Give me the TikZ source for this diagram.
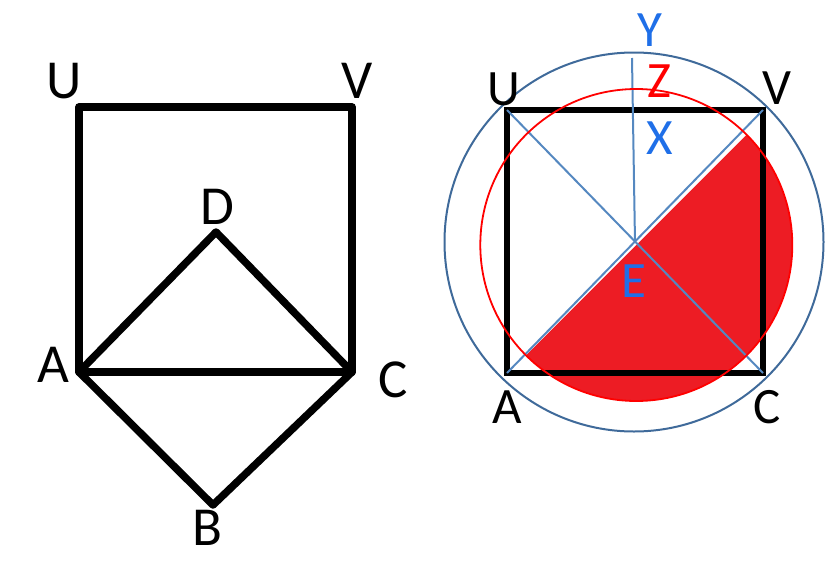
\documentclass[tikz,border=0pt]{standalone}
\usepackage{fontspec}
\setmainfont{Carlito}
\usetikzlibrary{calc}
\definecolor{fillred}{HTML}{ED1C24}
\definecolor{circred}{HTML}{FF0000}
\definecolor{lineblue}{HTML}{5588C0}
\definecolor{circblue}{HTML}{3F6A9A}
\definecolor{textblue}{HTML}{1F6FE8}
\tikzset{
  biglabel/.style={inner sep=0pt, font=\fontsize{55}{60}\selectfont},
  smlabel/.style={inner sep=0pt, font=\fontsize{51}{56}\selectfont},
  thickedge/.style={line width=7.5pt, line join=round, line cap=round},
  sqedge/.style={line width=5.5pt, line join=miter},
  thinblue/.style={line width=2pt, color=lineblue},
}
\begin{document}
\begin{tikzpicture}[x=1pt,y=-1pt]
\useasboundingbox (0,0) rectangle (830,571);
% ---------- left figure ----------
\coordinate (LU) at (79,107);
\coordinate (LV) at (352,107);
\coordinate (LC) at (352,372);
\coordinate (LA) at (79,372);
\coordinate (LD) at (216,232);
\coordinate (LB) at (213,505);
\draw[thickedge] (LA) -- (LU) -- (LV) -- (LC) -- cycle;
\draw[thickedge] (LA) -- (LD) -- (LC);
\draw[thickedge] (LA) -- (LB) -- (LC);
\node[biglabel] (tLU) at (64,81) {U};
\node[biglabel] (tLV) at (357,81) {V};
\node[biglabel] (tLD) at (217,207) {D};
\node[biglabel] (tLA) at (53,365) {A};
\node[biglabel] (tLC) at (393,380) {C};
\node[biglabel] (tLB) at (207,528) {B};
% ---------- right figure ----------
\coordinate (RU) at (507,110);
\coordinate (RV) at (763,110);
\coordinate (RC) at (763,373);
\coordinate (RA) at (507,373);
\coordinate (RE) at (635,242);
\coordinate (RT) at (632,58);
\coordinate (RO) at (636.3,245);
\coordinate (BO) at (634,242);
% red half disc
\fill[fillred] ($(RO)+(-45:156)$) arc[start angle=-45, end angle=135, radius=156] -- cycle;
\draw[sqedge] (RA) -- (RU) -- (RV) -- (RC) -- cycle;
\draw[thinblue] (RU) -- (RC);
\draw[thinblue] (RA) -- (RV);
\draw[thinblue] (RE) -- (RT);
\draw[line width=1.8pt, circred] (RO) circle[radius=156];
\draw[line width=2pt, circblue] (BO) circle[radius=189.5];
\node[smlabel, text=textblue] (tY) at (650,30) {Y};
\node[smlabel, text=circred] (tZ) at (659,81) {Z};
\node[smlabel, text=textblue] (tX) at (660,138) {X};
\node[smlabel, text=textblue] (tE) at (634,281) {E};
\node[smlabel] (tRU) at (504,89) {U};
\node[smlabel] (tRV) at (777,88) {V};
\node[smlabel] (tRA) at (507,407) {A};
\node[smlabel] (tRC) at (767,407) {C};
\end{tikzpicture}
\end{document}
